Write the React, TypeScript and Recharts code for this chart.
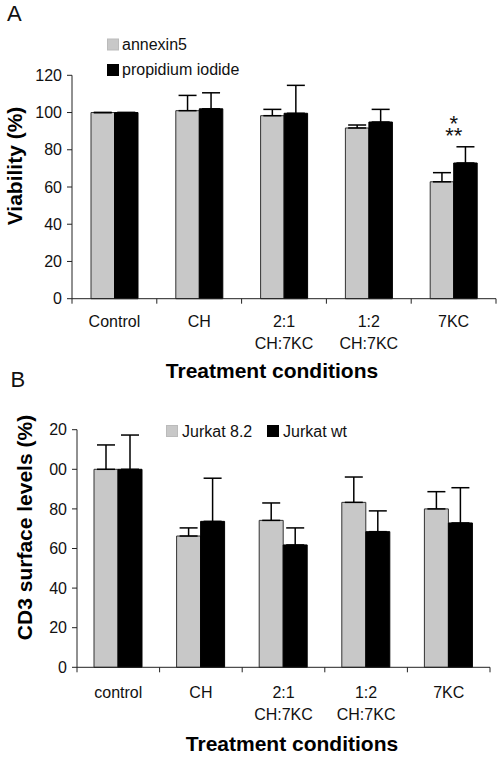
import React from 'react';
import { BarChart, Bar, XAxis, YAxis, ErrorBar, LabelList, Legend } from 'recharts';

// ---------- data ----------
const categoriesA = ['Control', 'CH', '2:1 CH:7KC', '1:2 CH:7KC', '7KC'];
const tickLinesA = [['Control'], ['CH'], ['2:1', 'CH:7KC'], ['1:2', 'CH:7KC'], ['7KC']];
const annexin5 = [100, 101, 98.3, 91.7, 62.8];
const annexin5Err = [0, 8.2, 3.4, 1.6, 4.9];
const propidium = [100, 102, 99.6, 94.9, 72.9];
const propidiumErr = [0, 8.6, 15, 6.8, 8.7];
const significanceA = [[], [], [], [], ['*', '**']];

const categoriesB = ['control', 'CH', '2:1 CH:7KC', '1:2 CH:7KC', '7KC'];
const tickLinesB = [['control'], ['CH'], ['2:1', 'CH:7KC'], ['1:2', 'CH:7KC'], ['7KC']];
const jurkat82 = [100, 66.3, 74.2, 83.3, 80];
const jurkat82Err = [12.3, 4.1, 8.8, 12.8, 8.7];
const jurkatWt = [100, 73.7, 61.8, 68.5, 72.9];
const jurkatWtErr = [17.3, 21.8, 8.6, 10.5, 17.8];

const yTicks = [0, 20, 40, 60, 80, 100, 120];
const yTickLabelsA = ['0', '20', '40', '60', '80', '100', '120'];
const yTickLabelsB = ['0', '20', '40', '60', '80', '00', '20'];

const dataA = categoriesA.map((c, i) => ({
  name: c,
  a: annexin5[i],
  aErr: [0, annexin5Err[i]],
  p: propidium[i],
  pErr: [0, propidiumErr[i]],
}));
const dataB = categoriesB.map((c, i) => ({
  name: c,
  j: jurkat82[i],
  jErr: [0, jurkat82Err[i]],
  w: jurkatWt[i],
  wErr: [0, jurkatWtErr[i]],
}));

// ---------- styles / layout ----------
const FONT = '"Liberation Sans", Arial, sans-serif';
const W = 498;
const A_H = 390;
const B_H = 374;
const A_LEFT = 72, A_RIGHT = 496, A_TOP = 75.3, A_BOTTOM = 298.7;
const B_LEFT = 77, B_RIGHT = 490, B_TOP = 39.7, B_BOTTOM = 277.3;
const GRAY = '#c8c8c8';
const BORDER = '#333';
const AXIS = '#222';
const TXT = '#111';

function CategoryTick(props: any) {
  const { x, y, index, lines, half, firstBase, step, count } = props;
  const ls: string[] = lines[index] || [];
  return (
    <g>
      <line x1={x - half} x2={x - half} y1={y} y2={y + 5} stroke={AXIS} strokeWidth={1} />
      {index === count - 1 && (
        <line x1={x + half} x2={x + half} y1={y} y2={y + 5} stroke={AXIS} strokeWidth={1} />
      )}
      {ls.map((t, i) => (
        <text key={i} x={x} y={y + firstBase + i * step} textAnchor="middle" fontSize={16} fill={TXT} fontFamily={FONT}>
          {t}
        </text>
      ))}
    </g>
  );
}

function makeLegend(positions: { sx: number; sy: number; tx: number; ty: number }[]) {
  return (props: any) => {
    const payload = props.payload || [];
    return (
      <svg width={W} height={100} style={{ overflow: 'visible', display: 'block' }}>
        {payload.map((e: any, i: number) => {
          const pos = positions[i];
          return (
            <g key={i}>
              <rect x={pos.sx} y={pos.sy} width={11} height={11} fill={e.color} stroke={e.color === '#000' ? '#000' : '#bbb'} strokeWidth={1} />
              <text x={pos.tx} y={pos.ty} fontSize={16} fill={TXT} fontFamily={FONT}>{e.value}</text>
            </g>
          );
        })}
      </svg>
    );
  };
}

const legendA = makeLegend([
  { sx: 107.5, sy: 39, tx: 122, ty: 50 },
  { sx: 107.5, sy: 64.5, tx: 122, ty: 75 },
]);
const legendB = makeLegend([
  { sx: 166.5, sy: 35.5, tx: 182, ty: 47 },
  { sx: 267.5, sy: 35.5, tx: 283, ty: 47 },
]);

function SigLabel(props: any) {
  const { x, y, index } = props;
  const lines: string[] = significanceA[index] || [];
  if (!lines.length) return null;
  return (
    <text x={x} y={y - 32} textAnchor="middle" fontSize={22} fill={TXT} fontFamily={FONT}>
      {lines.map((t, i) => (
        <tspan key={i} x={x} dy={i === 0 ? 0 : 12}>
          {t}
        </tspan>
      ))}
    </text>
  );
}

function RotLabel(cx: number, cy: number, text: string) {
  return () => (
    <text
      x={cx}
      y={cy}
      dy="0.36em"
      textAnchor="middle"
      transform={`rotate(-90, ${cx}, ${cy})`}
      fontSize={21}
      fontWeight="bold"
      fill="#000"
      fontFamily={FONT}
    >
      {text}
    </text>
  );
}

function TitleLabel(x: number, y: number, text: string) {
  return () => (
    <text x={x} y={y} textAnchor="middle" fontSize={21} fontWeight="bold" fill="#000" fontFamily={FONT}>
      {text}
    </text>
  );
}

export default function App() {
  const halfA = (A_RIGHT - A_LEFT) / categoriesA.length / 2;
  const halfB = (B_RIGHT - B_LEFT) / categoriesB.length / 2;
  return (
    <div style={{ position: 'absolute', left: 0, top: 0, width: W, height: 764, background: '#fff', fontFamily: FONT }}>
      <div style={{ position: 'absolute', left: 7, top: 3.4, fontSize: 22, lineHeight: '22px', color: TXT }}>A</div>
      <div style={{ position: 'absolute', left: 10.5, top: 369.4, fontSize: 22, lineHeight: '22px', color: TXT }}>B</div>

      <div style={{ position: 'absolute', left: 0, top: 0 }}>
        <BarChart
          width={W}
          height={A_H}
          data={dataA}
          margin={{ top: A_TOP, right: W - A_RIGHT, left: 0, bottom: 0 }}
          barGap={0}
          barSize={23.5}
        >
          <XAxis
            dataKey="name"
            height={A_H - A_BOTTOM}
            axisLine={{ stroke: AXIS }}
            tickLine={false}
            tickSize={0}
            tickMargin={0}
            interval={0}
            tick={(p: any) => (
              <CategoryTick {...p} lines={tickLinesA} half={halfA} firstBase={28.5} step={22} count={categoriesA.length} />
            )}
            label={{ content: TitleLabel(272, 378, 'Treatment conditions') }}
          />
          <YAxis
            width={A_LEFT}
            domain={[0, 120]}
            ticks={yTicks}
            interval={0}
            axisLine={{ stroke: AXIS }}
            tickLine={{ stroke: AXIS }}
            tickSize={5}
            tickMargin={5}
            tick={{ fontSize: 16, fill: TXT, fontFamily: FONT }}
            tickFormatter={(v: number) => yTickLabelsA[yTicks.indexOf(v)]}
            label={{ content: RotLabel(14.5, 166, 'Viability (%)') }}
          />
          <Legend
            layout="vertical"
            align="center"
            verticalAlign="middle"
            wrapperStyle={{ position: 'absolute', left: 0, top: 0, width: W, height: 100 }}
            content={legendA}
          />
          <Bar dataKey="a" name="annexin5" fill={GRAY} stroke={BORDER} strokeWidth={1} isAnimationActive={false}>
            <ErrorBar dataKey="aErr" direction="y" width={9} stroke="#000" strokeWidth={1.5} />
          </Bar>
          <Bar dataKey="p" name="propidium iodide" fill="#000" stroke="#000" strokeWidth={1} isAnimationActive={false}>
            <ErrorBar dataKey="pErr" direction="y" width={9} stroke="#000" strokeWidth={1.5} />
            <LabelList dataKey="p" content={SigLabel} />
          </Bar>
        </BarChart>
      </div>

      <div style={{ position: 'absolute', left: 0, top: A_H }}>
        <BarChart
          width={W}
          height={B_H}
          data={dataB}
          margin={{ top: B_TOP, right: W - B_RIGHT, left: 0, bottom: 0 }}
          barGap={0}
          barSize={24}
        >
          <XAxis
            dataKey="name"
            height={B_H - B_BOTTOM}
            axisLine={{ stroke: AXIS }}
            tickLine={false}
            tickSize={0}
            tickMargin={0}
            interval={0}
            tick={(p: any) => (
              <CategoryTick {...p} lines={tickLinesB} half={halfB} firstBase={30.5} step={22} count={categoriesB.length} />
            )}
            label={{ content: TitleLabel(292, 361, 'Treatment conditions') }}
          />
          <YAxis
            width={B_LEFT}
            domain={[0, 120]}
            ticks={yTicks}
            interval={0}
            axisLine={{ stroke: AXIS }}
            tickLine={{ stroke: AXIS }}
            tickSize={5}
            tickMargin={5}
            tick={{ fontSize: 16, fill: TXT, fontFamily: FONT }}
            tickFormatter={(v: number) => yTickLabelsB[yTicks.indexOf(v)]}
            label={{ content: RotLabel(24.5, 137.5, 'CD3 surface levels (%)') }}
          />
          <Legend
            layout="vertical"
            align="center"
            verticalAlign="middle"
            wrapperStyle={{ position: 'absolute', left: 0, top: 0, width: W, height: 100 }}
            content={legendB}
          />
          <Bar dataKey="j" name="Jurkat 8.2" fill={GRAY} stroke={BORDER} strokeWidth={1} isAnimationActive={false}>
            <ErrorBar dataKey="jErr" direction="y" width={9} stroke="#000" strokeWidth={1.5} />
          </Bar>
          <Bar dataKey="w" name="Jurkat wt" fill="#000" stroke="#000" strokeWidth={1} isAnimationActive={false}>
            <ErrorBar dataKey="wErr" direction="y" width={9} stroke="#000" strokeWidth={1.5} />
          </Bar>
        </BarChart>
      </div>
    </div>
  );
}
